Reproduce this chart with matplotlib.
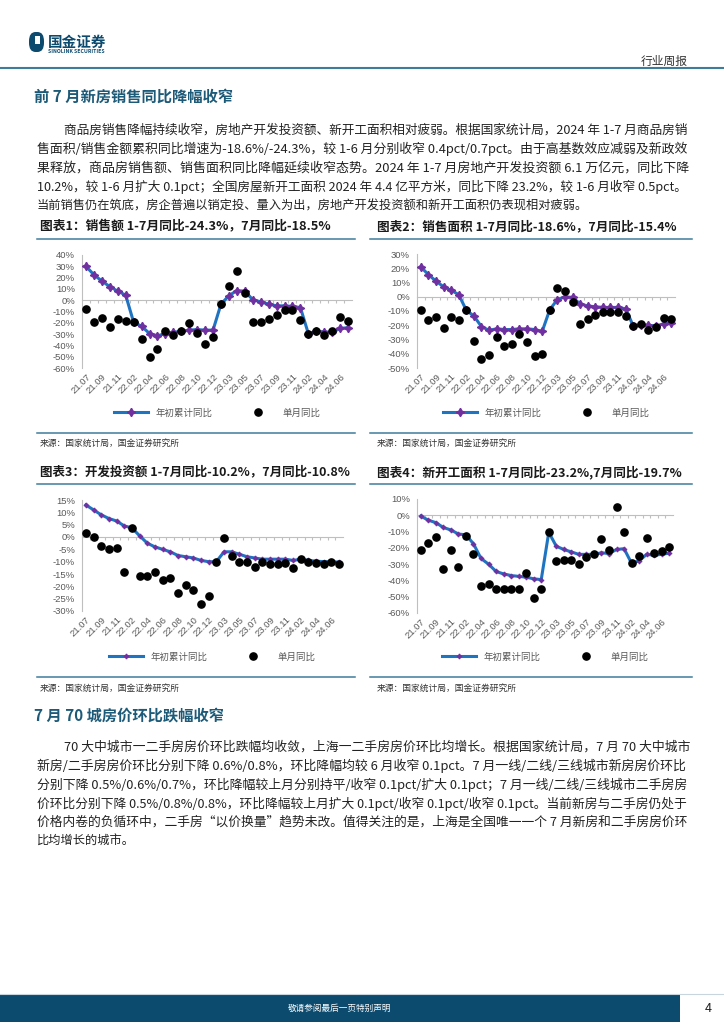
import numpy as np
import matplotlib
matplotlib.use('Agg')
import matplotlib.pyplot as plt
from matplotlib.lines import Line2D
from matplotlib.patches import Rectangle, FancyBboxPatch

plt.rcParams['font.family'] = ['Noto Sans CJK SC', 'DejaVu Sans']

W, H = 724, 1024

# ---- data ----
months = ['21.07', '21.08', '21.09', '21.10', '21.11', '21.12',
          '22.02', '22.03', '22.04', '22.05', '22.06', '22.07', '22.08', '22.09', '22.10', '22.11', '22.12',
          '23.02', '23.03', '23.04', '23.05', '23.06', '23.07', '23.08', '23.09', '23.10', '23.11', '23.12',
          '24.02', '24.03', '24.04', '24.05', '24.06', '24.07']

sales_cum = [30, 22.5, 17, 12, 8, 4.5,
             -19.5, -23, -29.5, -31.5, -29.5, -28.5, -27.5, -26.5, -26, -26.5, -26.5,
             -3.5, 4, 8.5, 8, 0.5, -1.5, -3.5, -5, -5, -5.5, -6.5,
             -29.5, -27.5, -28, -28.5, -25, -24.3]
sales_mon = [-7.5, -19.5, -16, -23.5, -17, -18.5,
             -19.5, -34, -50, -43.5, -27, -31, -27.5, -20.5, -29, -38.5, -33,
             -3.5, 12.5, 25.5, 6, -19.5, -19.5, -17, -13.5, -9, -9, -17.5,
             -29.5, -27, -30.5, -27, -14.5, -18.5]

area_cum = [21, 15.5, 11, 7, 4.5, 1.5,
            -9.5, -13.5, -21, -23.5, -22.5, -23, -23, -22.5, -22.5, -23, -24.3,
            -9, -2, 0, -0.5, -5, -6.5, -7, -7.5, -7.5, -7.5, -8.5,
            -20.5, -19.5, -20, -20.5, -19, -18.6]
area_mon = [-9.5, -16.5, -14, -22, -14.5, -16.5,
            -9.5, -31, -43.5, -41, -28.5, -34.5, -33, -26, -31.5, -41.5, -40,
            -9, 6, 4, -3.5, -19, -15.5, -13, -10.5, -11, -10.5, -13.5,
            -20.5, -19, -23, -21.5, -15, -15.4]

inv_cum = [13, 11, 9, 7.5, 6.5, 4.5,
           3.7, 0.5, -2.5, -4, -5, -6, -7.5, -8, -8.5, -9.5, -10,
           -10, -6, -6, -7, -8, -8.5, -9, -9, -9, -9, -9.5,
           -9, -9.5, -9.8, -10, -10, -10.2]
inv_mon = [1.5, 0, -3.5, -5, -4.5, -14,
           3.7, -16, -16, -14, -17.5, -16.5, -22.5, -19.5, -21.5, -27, -24,
           -10, -0.5, -7.5, -10, -10, -12, -10, -11, -11, -10.5, -12.5,
           -9, -10, -10.5, -11, -10, -10.8]

start_cum = [-0.5, -3, -4.5, -7.5, -9, -11.5,
             -12, -17.5, -26.5, -30, -34.5, -36, -37, -37.5, -38, -39, -39.5,
             -10.5, -19, -21, -22.5, -24, -24, -24, -23, -23.5, -21, -20.5,
             -29.5, -28, -24, -24.5, -24, -23.2]
start_mon = [-21.5, -17, -13.5, -33, -21.5, -31.5,
             -12.5, -23.5, -43.5, -42.5, -45.5, -45.5, -45, -45, -35.5, -51, -45,
             -10.5, -28, -27.5, -27.5, -30, -25.5, -24, -14.5, -21.5, 5, -10.5,
             -29.5, -25, -14, -23, -22, -19.7]

chart_titles = ['图表1：销售额 1-7月同比-24.3%，7月同比-18.5%',
                '图表2：销售面积 1-7月同比-18.6%，7月同比-15.4%',
                '图表3：开发投资额 1-7月同比-10.2%，7月同比-10.8%',
                '图表4：新开工面积 1-7月同比-23.2%,7月同比-19.7%']
source_text = '来源：国家统计局，国金证券研究所'
legend_labels = ['年初累计同比', '单月同比']

section1 = '前 7 月新房销售同比降幅收窄'
para1 = ['商品房销售降幅持续收窄，房地产开发投资额、新开工面积相对疲弱。根据国家统计局，2024 年 1-7 月商品房销',
         '售面积/销售金额累积同比增速为-18.6%/-24.3%，较 1-6 月分别收窄 0.4pct/0.7pct。由于高基数效应减弱及新政效',
         '果释放，商品房销售额、销售面积同比降幅延续收窄态势。2024 年 1-7 月房地产开发投资额 6.1 万亿元，同比下降',
         '10.2%，较 1-6 月扩大 0.1pct；全国房屋新开工面积 2024 年 4.4 亿平方米，同比下降 23.2%，较 1-6 月收窄 0.5pct。',
         '当前销售仍在筑底，房企普遍以销定投、量入为出，房地产开发投资额和新开工面积仍表现相对疲弱。']
section2 = '7 月 70 城房价环比跌幅收窄'
para2 = ['70 大中城市一二手房房价环比跌幅均收敛，上海一二手房房价环比均增长。根据国家统计局，7 月 70 大中城市',
         '新房/二手房房价环比分别下降 0.6%/0.8%，环比降幅均较 6 月收窄 0.1pct。7 月一线/二线/三线城市新房房价环比',
         '分别下降 0.5%/0.6%/0.7%，环比降幅较上月分别持平/收窄 0.1pct/扩大 0.1pct；7 月一线/二线/三线城市二手房房',
         '价环比分别下降 0.5%/0.8%/0.8%，环比降幅较上月扩大 0.1pct/收窄 0.1pct/收窄 0.1pct。当前新房与二手房仍处于',
         '价格内卷的负循环中，二手房“以价换量”趋势未改。值得关注的是，上海是全国唯一一个 7 月新房和二手房房价环',
         '比均增长的城市。']

NAVY = '#0c4a6e'
TEAL = '#1d5a78'
RULE = '#3f7c9c'
LINE_BLUE = '#1f74c2'
PURPLE = '#7030a0'
GREY = '#595959'

fig = plt.figure(figsize=(W / 100, H / 100), dpi=100)
renderer = fig.canvas.get_renderer()


def fy(y):
    return 1 - y / H


def hline(x0, x1, y, color, lw):
    fig.add_artist(Line2D([x0 / W, x1 / W], [fy(y), fy(y)], color=color, lw=lw,
                          transform=fig.transFigure))


def put_text(x, y, s, fs, width=None, **kw):
    kw.setdefault('va', 'center')
    kw.setdefault('ha', 'left')
    t = fig.text(x / W, fy(y), s, fontsize=fs, **kw)
    if width:
        w = t.get_window_extent(renderer).width
        t.set_fontsize(fs * width / w)
    return t


# ---- header ----
fig.add_artist(FancyBboxPatch((29 / W, fy(52)), 15 / W, 20 / H,
                              boxstyle='round,pad=0,rounding_size=0.009',
                              transform=fig.transFigure, fc=NAVY, ec='none'))
fig.add_artist(Rectangle((35 / W, fy(44)), 5 / W, 8 / H, transform=fig.transFigure,
                         fc='white', ec='none'))
put_text(48, 42, '国金证券', 10.5, weight='bold', color=NAVY)
put_text(48, 51.5, 'SINOLINK SECURITIES', 3.7, weight='bold', color=NAVY)
put_text(688, 61, '行业周报', 8.5, ha='right', color='#333333')
hline(0, W, 68, RULE, 1.5)

# ---- text blocks ----
put_text(34, 97, section1, 11, weight='bold', color=TEAL)
for i, line in enumerate(para1):
    x0 = 64 if i == 0 else 37
    last = i == len(para1) - 1
    put_text(x0, 130 + i * 18.9, line, 8.8, width=None if last else 690 - x0, color='#222222')

put_text(34, 715, section2, 11, weight='bold', color=TEAL)
for i, line in enumerate(para2):
    x0 = 64 if i == 0 else 37
    last = i == len(para2) - 1
    put_text(x0, 747 + i * 18.9, line, 8.8, width=None if last else 690 - x0, color='#222222')


# ---- charts ----
def draw_chart(box, cum, mon, ylim, ystep, msize, legend_y):
    x0, x1, y0, y1 = box
    ax = fig.add_axes([x0 / W, fy(y1), (x1 - x0) / W, (y1 - y0) / H])
    x = np.arange(len(months))
    ax.plot(x, cum, color=LINE_BLUE, lw=2.2, marker=(4, 1, 0), ms=msize,
            mfc=PURPLE, mec=PURPLE, label=legend_labels[0], zorder=3)
    ax.plot(x, mon, ls='none', marker='o', ms=5.2, color='black',
            label=legend_labels[1], zorder=4)
    ax.set_xlim(-0.5, len(months) - 0.5)
    ax.set_ylim(*ylim)
    ax.set_yticks(np.arange(ylim[0], ylim[1] + 0.1, ystep))
    ax.yaxis.set_major_formatter(lambda v, p: f'{v:.0f}%')
    for lab in ax.get_yticklabels():
        lab.set_family(['Liberation Sans', 'DejaVu Sans'])
    ax.tick_params(axis='y', length=0, pad=5, labelsize=6.8, labelcolor=GREY)
    for s in ('top', 'right'):
        ax.spines[s].set_visible(False)
    ax.spines['left'].set_color('#bfbfbf')
    ax.spines['bottom'].set_position(('data', 0))
    ax.spines['bottom'].set_color('#bfbfbf')
    ax.set_xticks(np.arange(0.5, len(months) - 0.5, 1))
    ax.tick_params(axis='x', length=2.5, color='#bfbfbf', labelbottom=False)
    sec = ax.secondary_xaxis(0)
    sec.set_xticks(x[::2], labels=months[::2])
    sec.spines['bottom'].set_visible(False)
    sec.tick_params(length=0, pad=3, labelsize=6.8, labelcolor=GREY)
    for lab in sec.get_xticklabels():
        lab.set_rotation(45)
        lab.set_ha('right')
        lab.set_va('top')
        lab.set_rotation_mode('anchor')
        lab.set_family(['Liberation Sans', 'DejaVu Sans'])
    ly = (y1 - legend_y) / (y1 - y0)
    ax.legend(loc='center', bbox_to_anchor=(0.5, ly), ncol=2, frameon=False,
              fontsize=6.8, handlelength=3.6, columnspacing=3.0, labelcolor=GREY)
    return ax


draw_chart((82, 352, 255, 368), sales_cum, sales_mon, (-60, 40), 10, 6, 413)
draw_chart((417, 675, 254, 368), area_cum, area_mon, (-50, 30), 10, 6, 413)
draw_chart((82, 343, 500, 611), inv_cum, inv_mon, (-30, 15), 5, 3.5, 657)
draw_chart((417, 673, 499, 613), start_cum, start_mon, (-60, 10), 10, 3.5, 657)

# chart frames: titles, rules, sources
title_pos = [(40, 227, 292), (377, 227, 300), (40, 472, 312), (377, 472, 306)]
for (tx, ty, tw), title in zip(title_pos, chart_titles):
    put_text(tx, ty, title, 9.5, width=tw, weight='bold', color='#1a1a1a')
for xa, xb in ((37, 355), (370, 692)):
    hline(xa, xb, 238.5, RULE, 1.1)
    hline(xa, xb, 432.5, RULE, 1.1)
    hline(xa, xb, 483.5, RULE, 1.1)
    hline(xa, xb, 677, RULE, 1.1)
for sx in (40, 377):
    put_text(sx, 443, source_text, 6.3, color='#333333')
    put_text(sx, 688, source_text, 6.3, color='#333333')

# ---- footer ----
hline(0, W, 994, '#c9d5de', 0.8)
fig.add_artist(Rectangle((0, fy(1022)), 680 / W, 27 / H, transform=fig.transFigure,
                         fc=NAVY, ec='none'))
put_text(340, 1008.5, '敬请参阅最后一页特别声明', 6.2, ha='center', color='white')
put_text(708, 1008.5, '4', 9, ha='center', color='#222222')

fig.savefig('out.png', dpi=100)
